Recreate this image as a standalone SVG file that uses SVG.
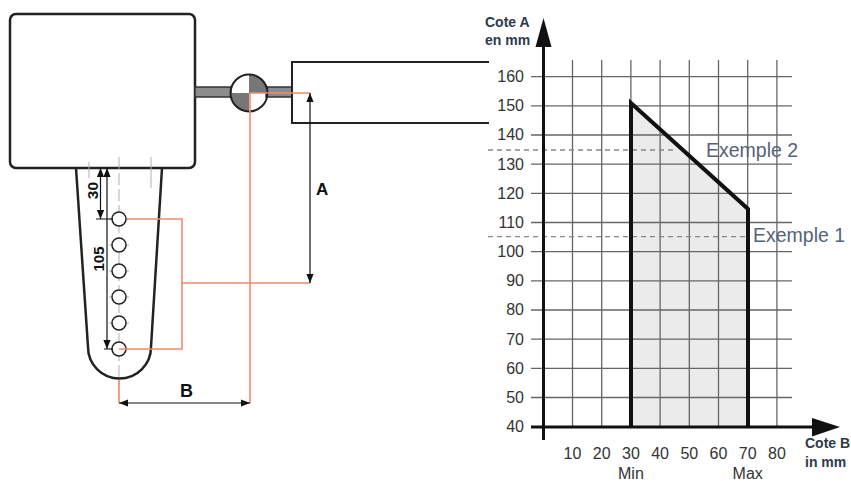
<svg xmlns="http://www.w3.org/2000/svg" width="851" height="481" viewBox="0 0 851 481">
<defs>
<style>
.k{stroke:#222;fill:none;stroke-width:2.5}
.o{stroke:#f08a6e;fill:none;stroke-width:1.6}
.d{stroke:#111;stroke-width:1.2;fill:none}
.g{stroke:#666;stroke-width:1.3}
.lt{stroke:#b0b0b0;stroke-width:1;fill:none}
.hole{fill:#fff;stroke:#222;stroke-width:1.5}
.lbl{font-family:"Liberation Sans",Arial,sans-serif;font-size:16px;fill:#333}
.b{font-family:"Liberation Sans",Arial,sans-serif;font-weight:bold;fill:#111}
.ax{font-family:"Liberation Sans",Arial,sans-serif;font-weight:bold;font-size:14px;fill:#2d3a4c}
.ex{font-family:"Liberation Sans",Arial,sans-serif;font-size:19.5px;fill:#56627a}
.dash{stroke:#888;stroke-width:1.3;stroke-dasharray:5,4}
</style>
<marker id="ah" viewBox="0 0 10 8" refX="10" refY="4" markerWidth="9" markerHeight="7.2" markerUnits="userSpaceOnUse" orient="auto-start-reverse"><path d="M0,0 L10,4 L0,8 z" fill="#111"/></marker>
</defs>
<rect width="851" height="481" fill="#fff"/>

<g id="main-box"><rect class="k" x="10" y="14" width="185" height="154" rx="6"/></g>

<g id="arm">
<path class="k" d="M76,168 L88,347 A31.5,31.5 0 0 0 151,347 L162,168"/>
<path class="lt" d="M119,157 V385" stroke-dasharray="12,4"/>
<path class="lt" d="M89,162 V178 M151,157 V188"/>
<path class="lt" d="M109,219 H129 M109,245 H129 M109,271 H129 M109,297 H129 M109,323 H129 M109,349 H129"/>
<circle class="hole" cx="119" cy="219" r="7"/>
<circle class="hole" cx="119" cy="245" r="7"/>
<circle class="hole" cx="119" cy="271" r="7"/>
<circle class="hole" cx="119" cy="297" r="7"/>
<circle class="hole" cx="119" cy="323" r="7"/>
<circle class="hole" cx="119" cy="349" r="7"/>
</g>

<g id="shaft">
<rect x="195" y="87" width="36" height="10" fill="#8c8c8c" stroke="#333" stroke-width="1.5"/>
<rect x="266" y="87" width="26" height="10" fill="#8c8c8c" stroke="#333" stroke-width="1.5"/>
<path d="M249,93 L249,74.5 A18.5,18.5 0 0 1 267.5,93 Z" fill="#777"/>
<path d="M249,93 L249,111.5 A18.5,18.5 0 0 1 230.5,93 Z" fill="#777"/>
<circle cx="249" cy="93" r="18.5" fill="none" stroke="#222" stroke-width="2"/>
</g>

<g id="right-box"><path d="M489,62 H292 V123 H489" fill="none" stroke="#222" stroke-width="2"/></g>

<g id="connectors">
<path class="o" d="M250,93 H310 M250,93 V403 M127,219 H182 V349 H119 M182,283 H310 M119,380 V403"/>
<line class="d" x1="310" y1="93" x2="310" y2="283" marker-start="url(#ah)" marker-end="url(#ah)"/>
<line class="d" x1="119" y1="403" x2="250" y2="403" marker-start="url(#ah)" marker-end="url(#ah)"/>
<line class="d" x1="100.5" y1="168" x2="100.5" y2="219" marker-start="url(#ah)" marker-end="url(#ah)"/>
<line class="d" x1="107" y1="168" x2="107" y2="349" marker-start="url(#ah)" marker-end="url(#ah)"/>
<path class="d" d="M96,219 H113 M104,349 H113"/>
</g>

<g id="dim-labels">
<text class="b" font-size="17" x="316" y="195">A</text>
<text class="b" font-size="18" x="180" y="397">B</text>
<text class="b" font-size="15.5" text-anchor="middle" transform="translate(98,190.5) rotate(-90)">30</text>
<text class="b" font-size="15" text-anchor="middle" transform="translate(104,259) rotate(-90)">105</text>
</g>

<g id="chart">
<polygon points="631,427 631,103 748,209 748,427" fill="#ebebeb"/>
<g class="g">
<line x1="531" y1="397.5" x2="792" y2="397.5"/>
<line x1="531" y1="368.4" x2="792" y2="368.4"/>
<line x1="531" y1="339.2" x2="792" y2="339.2"/>
<line x1="531" y1="310" x2="792" y2="310"/>
<line x1="531" y1="280.9" x2="792" y2="280.9"/>
<line x1="531" y1="251.7" x2="792" y2="251.7"/>
<line x1="531" y1="222.5" x2="792" y2="222.5"/>
<line x1="531" y1="193.4" x2="792" y2="193.4"/>
<line x1="531" y1="164.2" x2="792" y2="164.2"/>
<line x1="531" y1="135" x2="792" y2="135"/>
<line x1="531" y1="105.9" x2="792" y2="105.9"/>
<line x1="531" y1="76.7" x2="792" y2="76.7"/>
<line x1="572.5" y1="60" x2="572.5" y2="427"/>
<line x1="601.7" y1="60" x2="601.7" y2="427"/>
<line x1="630.9" y1="60" x2="630.9" y2="427"/>
<line x1="660.1" y1="60" x2="660.1" y2="427"/>
<line x1="689.3" y1="60" x2="689.3" y2="427"/>
<line x1="718.5" y1="60" x2="718.5" y2="427"/>
<line x1="747.7" y1="60" x2="747.7" y2="427"/>
<line x1="776.9" y1="60" x2="776.9" y2="427"/>
</g>
<line class="dash" x1="488" y1="150" x2="673" y2="150"/>
<line class="dash" x1="488" y1="236.7" x2="745" y2="236.7"/>
<polyline points="631,427 631,103 748,209 748,427" fill="none" stroke="#111" stroke-width="4"/>
<line x1="543.5" y1="45" x2="543.5" y2="440" stroke="#111" stroke-width="3"/>
<polygon points="543.5,18 535.5,47 551.5,47" fill="#111"/>
<line x1="531" y1="427" x2="814" y2="427" stroke="#111" stroke-width="3"/>
<polygon points="840,427 812,418 812,436.5" fill="#111"/>
<g class="lbl" text-anchor="end">
<text x="524" y="82">160</text>
<text x="524" y="111">150</text>
<text x="524" y="140">140</text>
<text x="524" y="169.5">130</text>
<text x="524" y="198.5">120</text>
<text x="524" y="227.5">110</text>
<text x="524" y="257">100</text>
<text x="524" y="286">90</text>
<text x="524" y="315">80</text>
<text x="524" y="344.5">70</text>
<text x="524" y="373.5">60</text>
<text x="524" y="403">50</text>
<text x="524" y="432">40</text>
</g>
<g class="lbl" text-anchor="middle">
<text x="572.5" y="459">10</text>
<text x="601.7" y="459">20</text>
<text x="630.9" y="459">30</text>
<text x="660.1" y="459">40</text>
<text x="689.3" y="459">50</text>
<text x="718.5" y="459">60</text>
<text x="747.7" y="459">70</text>
<text x="776.9" y="459">80</text>
<text x="630.9" y="479">Min</text>
<text x="747.7" y="479">Max</text>
</g>
<text class="ex" x="706" y="157">Exemple 2</text>
<text class="ex" x="753" y="242">Exemple 1</text>
<text class="ax" x="485" y="27">Cote A</text>
<text class="ax" x="485" y="45">en mm</text>
<text class="ax" x="805" y="448">Cote B</text>
<text class="ax" x="805" y="467">in mm</text>
</g>
</svg>
